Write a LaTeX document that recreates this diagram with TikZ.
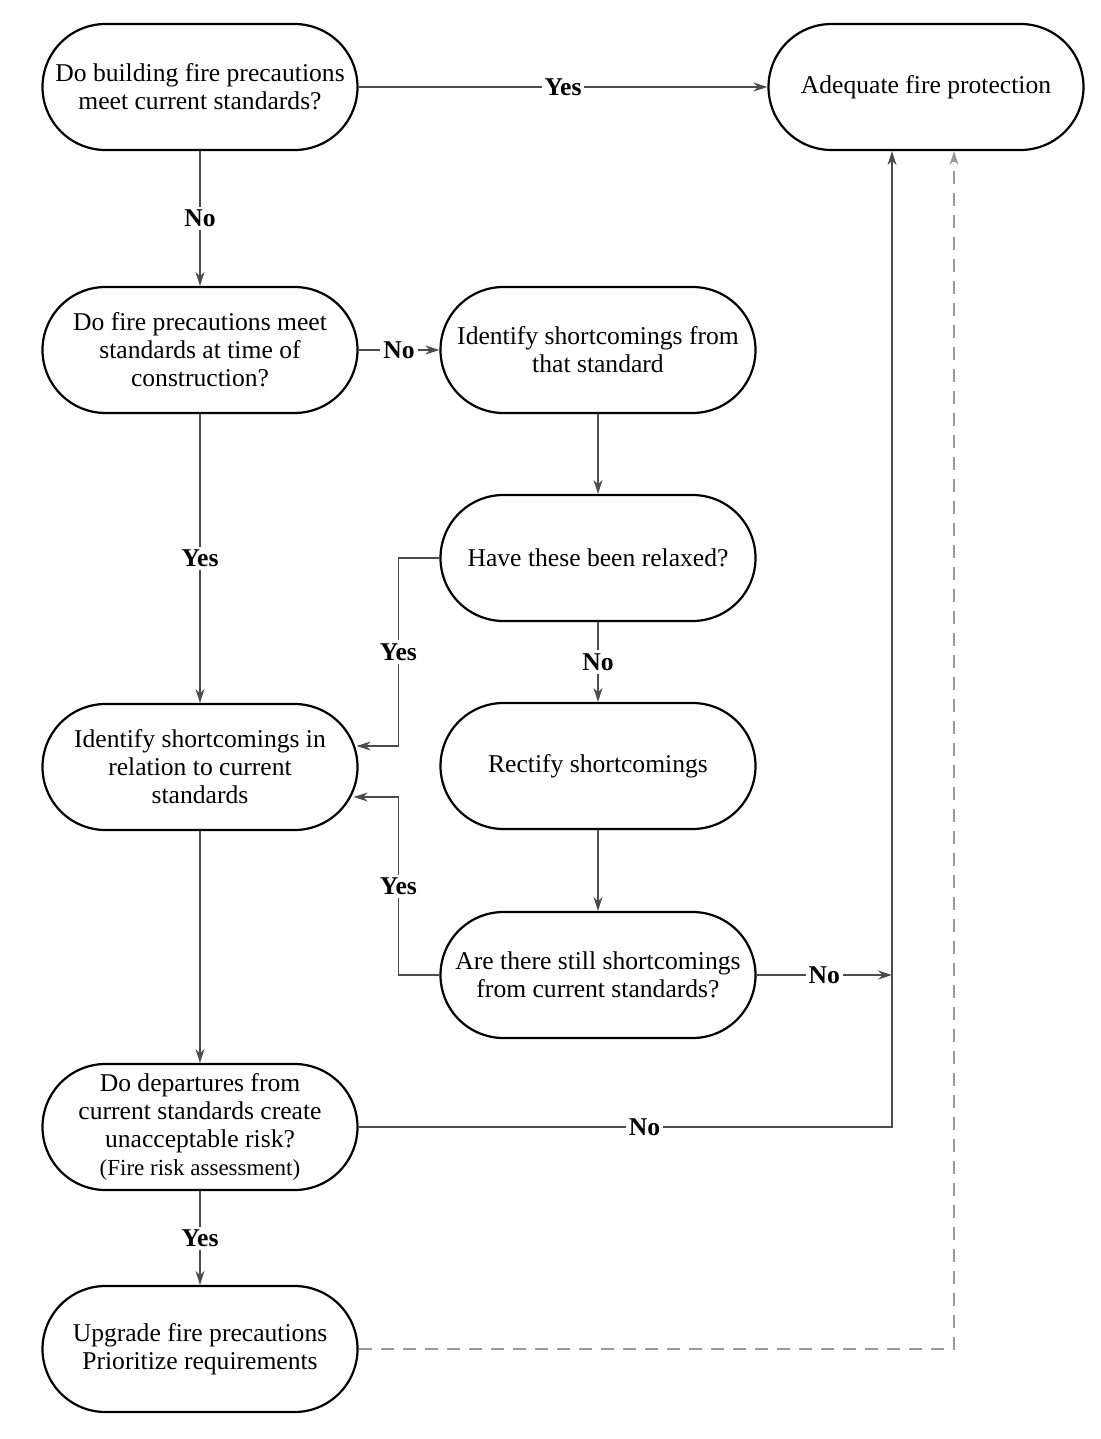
\documentclass[tikz,border=0pt]{standalone}
\usepackage{fontspec}
\setmainfont{Liberation Serif}
\usetikzlibrary{arrows.meta}
\usetikzlibrary{calc}
\usetikzlibrary{positioning}

\begin{document}
\begin{tikzpicture}[x = 0.5pt, y = -0.5pt,
	box/.style = {draw, line width = 1.1pt, rounded corners = 31.5pt, minimum width = 157.5pt, minimum height = 63pt, inner sep = 0pt, align = center, font = \fontsize{12.8}{14}\selectfont},
	line/.style = {draw = black!70, line width = 0.75pt},
	arr/.style = {line, -{Stealth[length = 7pt, width = 4.5pt]}},
	dashline/.style = {draw = black!40, dash pattern = on 6.5pt off 4.5pt},
	lab/.style = {fill = white, inner sep = 1.5pt, font = \fontsize{12.8}{14}\selectfont\bfseries}]
	\useasboundingbox (0, 0) rectangle (1100, 1439);
	
	% Nodes
	\node[box] (q1) at (200, 87) {Do building fire precautions\\meet current standards?};
	\node[box] (done) at (926, 87) {Adequate fire protection};
	\node[box] (q2) at (200, 350) {Do fire precautions meet\\standards at time of\\construction?};
	\node[box] (fromstd) at (598, 350) {Identify shortcomings from\\that standard};
	\node[box] (relaxed) at (598, 558) {Have these been relaxed?};
	\node[box] (curstd) at (200, 767) {Identify shortcomings in\\relation to current\\standards};
	\node[box] (rectify) at (598, 766) {Rectify shortcomings};
	\node[box] (still) at (598, 975) {Are there still shortcomings\\from current standards?};
	\node[box] (risk) at (200, 1127) {Do departures from\\current standards create\\unacceptable risk?\\{\fontsize{11.5}{13}\selectfont (Fire risk assessment)}};
	\node[box] (upgrade) at (200, 1349) {Upgrade fire precautions\\Prioritize requirements};
	
	\coordinate (rail) at (892, 1127);
	\coordinate (back) at (954, 1349);
	
	% Edges
	\draw[arr] (q1) -- node[lab] {Yes} (done);
	\draw[arr] (q1) -- node[lab] {No} (q2);
	\draw[arr] (q2) -- node[lab] {No} (fromstd);
	\draw[arr] (fromstd) -- (relaxed);
	\draw[arr] (q2) -- node[lab] {Yes} (curstd);
	\draw[arr] (relaxed) -- node[lab] {No} (rectify);
	\draw[arr] (rectify) -- (still);
	\draw[arr] (relaxed.west) -- ++(-41, 0) |- node[lab, pos = 0.25] {Yes} ($(curstd.east) + (-2, -21)$);
	\draw[arr] (still.west) -- ++(-41, 0) |- node[lab, pos = 0.25] {Yes} ($(curstd.east) + (-5, 30)$);
	\draw[arr] (curstd) -- (risk);
	\draw[arr] (risk) -- node[lab] {Yes} (upgrade);
	\draw[arr] (still) -- node[lab] {No} (still -| rail);
	\draw[arr] (risk) -- node[lab, pos = 0.536] {No} (rail) -- (rail |- done.south);
	\draw[arr, dashline] (upgrade) -- (back) -- (back |- done.south);
\end{tikzpicture}
\end{document}
